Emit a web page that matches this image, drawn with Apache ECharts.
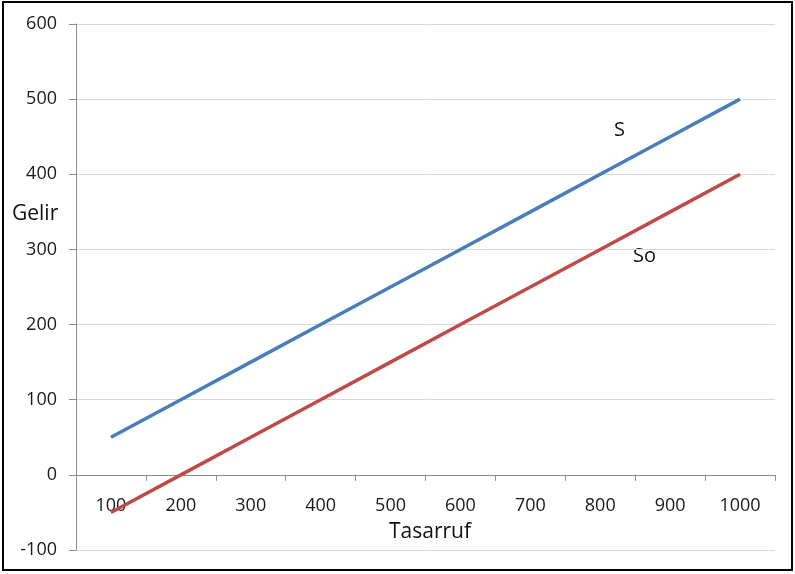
<!DOCTYPE html>
<html><head><meta charset="utf-8">
<script src="https://cdn.jsdelivr.net/npm/echarts@6/dist/echarts.min.js"></script>
<style>
html,body{margin:0;padding:0;background:#fff;}
#c{position:absolute;left:0;top:0;width:795px;height:574px;}
#f{position:absolute;left:2px;top:1px;width:787px;height:566px;border:2px solid #000;pointer-events:none;}
</style></head>
<body><div id="c"></div><div id="f"></div>
<script>
const categories = ['100','200','300','400','500','600','700','800','900','1000'];
const seriesS = [50,100,150,200,250,300,350,400,450,500];
const seriesSo = [-50,0,50,100,150,200,250,300,350,400];
const yTicks = {min:-100, max:600, interval:100};

const font = '"Open Sans", "Noto Sans", sans-serif';
const gridTop = 24, gridBottom = 24, H = 574;
const plotH = H - gridTop - gridBottom;
const zeroOffset = -plotH * (0 - yTicks.min) / (yTicks.max - yTicks.min);

const chart = echarts.init(document.getElementById('c'));
chart.setOption({
  animation:false,
  grid:{left:76,right:20,top:gridTop,bottom:gridBottom,containLabel:false,outerBoundsMode:'none'},
  xAxis:{type:'category',data:categories,boundaryGap:true,position:'bottom',offset:zeroOffset,
    axisLine:{onZero:false,lineStyle:{color:'#8c8c8c',width:1}},
    axisTick:{show:true,length:6,alignWithLabel:false,lineStyle:{color:'#8c8c8c'}},
    axisLabel:{margin:22,color:'#1a1a1a',fontSize:18,fontFamily:font},
    splitLine:{show:false}},
  yAxis:{type:'value',min:yTicks.min,max:yTicks.max,interval:yTicks.interval,
    axisLine:{show:true,lineStyle:{color:'#8c8c8c'}},
    axisTick:{show:true,length:7,lineStyle:{color:'#8c8c8c'}},
    axisLabel:{margin:19,color:'#1a1a1a',fontSize:18,fontFamily:font,padding:[3,0,0,0]},
    splitLine:{lineStyle:{color:'#d9d9d9',width:1}}},
  series:[
    {name:'S',type:'line',data:seriesS,symbol:'none',lineStyle:{color:'#4A7EBB',width:3.5},itemStyle:{color:'#4A7EBB'}},
    {name:'So',type:'line',data:seriesSo,symbol:'none',lineStyle:{color:'#BE4B48',width:3.5},itemStyle:{color:'#BE4B48'}}
  ],
  graphic:[
    {type:'text',left:614,top:120,style:{text:'S',font:'20px '+font,fill:'#111'}},
    {type:'text',left:633,top:246,style:{text:'So',font:'20px '+font,fill:'#111'}},
    {type:'text',left:12,top:204,style:{text:'Gelir',font:'21px '+font,fill:'#111'}},
    {type:'text',left:389,top:522,style:{text:'Tasarruf',font:'21px '+font,fill:'#111'}}
  ]
});
</script></body></html>
